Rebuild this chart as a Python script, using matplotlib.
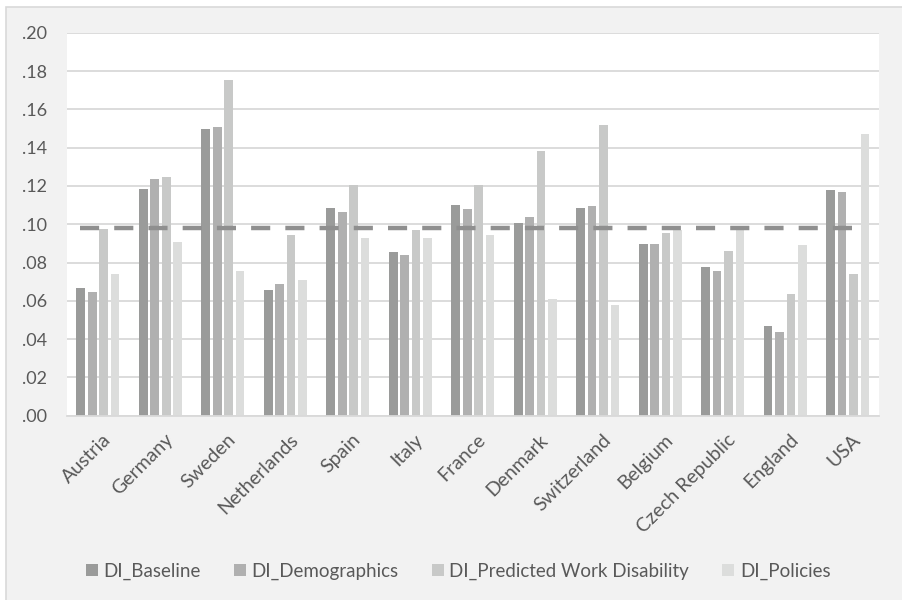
import matplotlib
matplotlib.use("Agg")
import matplotlib.pyplot as plt
import matplotlib.transforms as mtransforms
import numpy as np
from matplotlib.patches import Rectangle

countries = ["Austria", "Germany", "Sweden", "Netherlands", "Spain", "Italy", "France",
             "Denmark", "Switzerland", "Belgium", "Czech Republic", "England", "USA"]

di_baseline = [0.0665, 0.1184, 0.1496, 0.0658, 0.1086, 0.0853, 0.1102,
               0.1005, 0.1085, 0.0898, 0.0778, 0.0470, 0.1177]
di_demographics = [0.0644, 0.1236, 0.1508, 0.0688, 0.1065, 0.0839, 0.1081,
                   0.1036, 0.1097, 0.0895, 0.0757, 0.0439, 0.1167]
di_pred_work_dis = [0.0973, 0.1247, 0.1751, 0.0945, 0.1203, 0.0968, 0.1206,
                    0.1382, 0.1517, 0.0954, 0.0860, 0.0636, 0.0740]
di_policies = [0.0738, 0.0909, 0.0756, 0.0709, 0.0926, 0.0926, 0.0944,
               0.0611, 0.0578, 0.0970, 0.0971, 0.0890, 0.1471]
overall_mean = 0.0982

series_names = ["DI_Baseline", "DI_Demographics", "DI_Predicted Work Disability", "DI_Policies"]
series = [di_baseline, di_demographics, di_pred_work_dis, di_policies]
colors = ["#9a9b9a", "#b0b0b0", "#c8c9c8", "#dcdddc"]

yticks = [0.00, 0.02, 0.04, 0.06, 0.08, 0.10, 0.12, 0.14, 0.16, 0.18, 0.20]
ytick_labels = [".00", ".02", ".04", ".06", ".08", ".10", ".12", ".14", ".16", ".18", ".20"]

plt.rcParams["font.family"] = ["Lato", "DejaVu Sans"]
text_color = "#595959"

fig = plt.figure(figsize=(9.02, 6.0), dpi=100, facecolor="white")

# chart-area frame, kept behind the axes
frame = Rectangle((6 / 902, -0.05), 1.2, 0.05 + 1 - 7 / 600,
                  transform=fig.transFigure, facecolor="#f2f2f2",
                  edgecolor="#d9d9d9", linewidth=1.2, zorder=-10)
fig.add_artist(frame)

ax = fig.add_axes([66.7 / 902, 1 - 415.7 / 600, (879 - 66.7) / 902, (415.7 - 32.7) / 600])
ax.set_zorder(1)
ax.set_facecolor("white")

x = np.arange(len(countries))
step = 0.183
width = 0.14
offsets = (np.arange(4) - 1.5) * step
handles = []
for vals, name, col, off in zip(series, series_names, colors, offsets):
    b = ax.bar(x + off, vals, width=width, color=col, label=name, zorder=2)
    handles.append(b)

ax.hlines(overall_mean, x[0] + offsets[0] - width / 2 + 0.05, x[-1] + offsets[-1] + width / 2 - 0.05,
          colors="#8f8f8f", linewidth=3.2, linestyles=(0, (4.3, 3.4)), zorder=3)

ax.set_xlim(-0.5, len(countries) - 0.5)
ax.set_ylim(0, 0.20)
ax.set_yticks(yticks)
ax.set_yticklabels(ytick_labels)
ax.yaxis.grid(True, color="#d9d9d9", linewidth=1.3, zorder=0)
ax.set_axisbelow(True)
for s in ["top", "right", "left"]:
    ax.spines[s].set_visible(False)
ax.spines["bottom"].set_color("#d9d9d9")
ax.spines["bottom"].set_linewidth(1.3)

ax.tick_params(axis="y", length=0, pad=14, labelsize=13, labelcolor=text_color)
ax.tick_params(axis="x", length=0, pad=11, labelsize=14, labelcolor=text_color)
ax.set_xticks(x)
ax.set_xticklabels(countries, rotation=45, ha="right", va="top", rotation_mode="anchor")
shift = mtransforms.ScaledTranslation(4 / 100, 0, fig.dpi_scale_trans)
for lbl in ax.get_xticklabels():
    lbl.set_transform(lbl.get_transform() + shift)

fig.legend(handles=handles, labels=series_names, loc="center", bbox_to_anchor=(0.508, 1 - 571 / 600),
           ncol=4, frameon=False, fontsize=13.5, handlelength=0.65, handleheight=0.65,
           handletextpad=0.3, columnspacing=1.75, labelcolor=text_color)

fig.savefig("out.png", dpi=100, facecolor="white")
